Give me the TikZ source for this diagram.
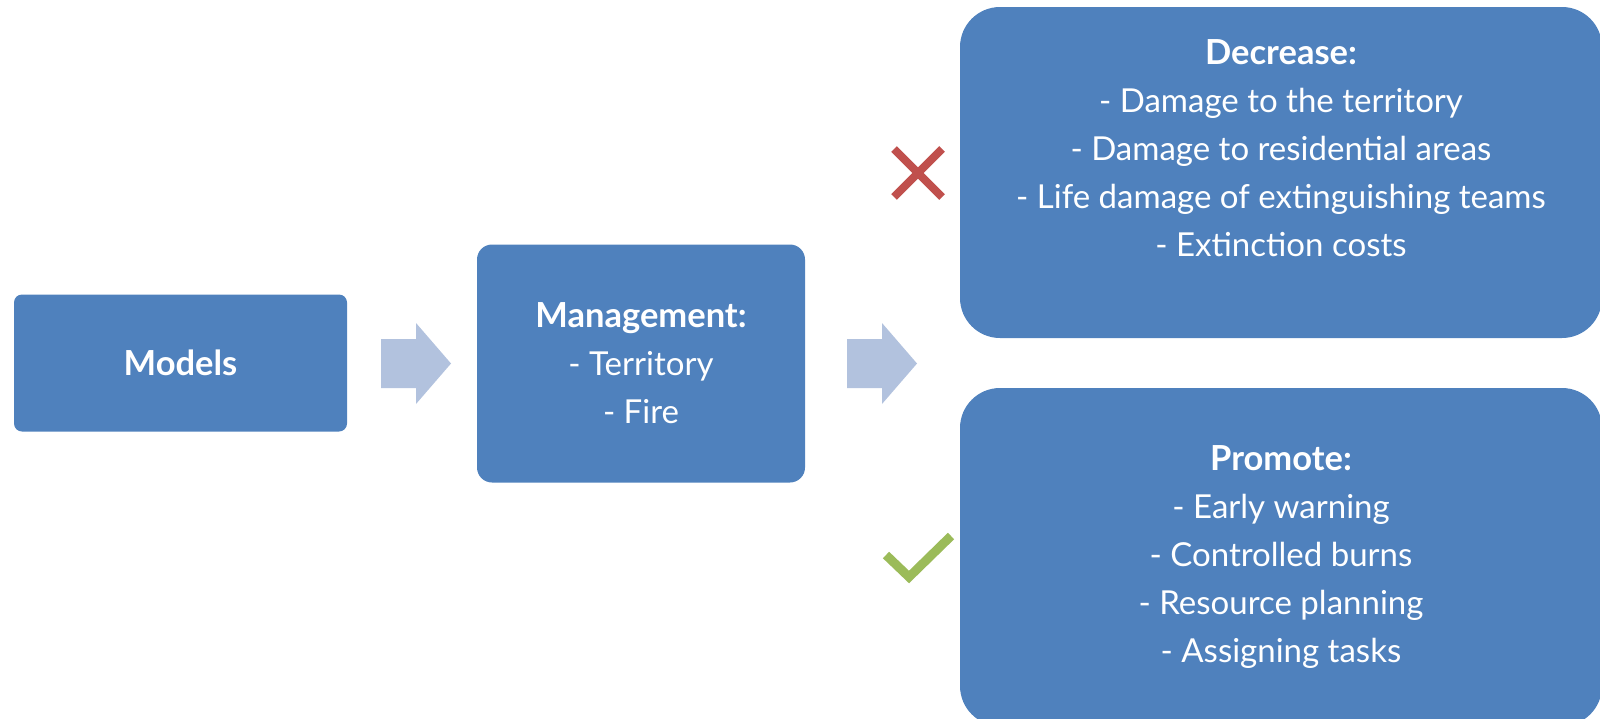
\documentclass[tikz,border=0pt]{standalone}
\usepackage{fontspec}
\setmainfont{Lato}
\usepackage{tikz}
\usepackage{xcolor}
\definecolor{BoxBlue}{RGB}{79,129,189}
\definecolor{ArrowBlue}{RGB}{178,194,222}
\definecolor{CrossRed}{RGB}{192,80,77}
\definecolor{CheckGreen}{RGB}{155,187,89}
\newcommand{\BoxFont}{\fontsize{33}{48}\selectfont}
\newcommand{\BoxTitle}[1]{{\fontsize{34.5}{48}\selectfont\textbf{#1}}}
\tikzstyle{BoxNode}=[rectangle,fill=BoxBlue,text=white,inner sep=0pt,align=center,
font=\BoxFont]
\tikzstyle{BoxText}=[text=white,inner sep=0pt,align=center,font=\BoxFont]
\tikzstyle{BlockArrow}=[fill=ArrowBlue]
\tikzstyle{CrossMark}=[CrossRed,line width=8pt]
\tikzstyle{CheckMark}=[CheckGreen,line width=9pt,miter limit=10]

\begin{document}
\begin{tikzpicture}[x=1pt,y=-1pt]
        \useasboundingbox (0,0) rectangle (1600,718);
        % boxes
        \node[BoxNode,rounded corners=8pt,minimum width=333,minimum height=137](models)at(180.5,363){\BoxTitle{Models}};
        \node[BoxNode,rounded corners=15pt,minimum width=328,minimum height=238](manage)at(641,363.5){\BoxTitle{Management:}\\- Territory\\- Fire};
        \node[BoxNode,rounded corners=40pt,minimum width=642,minimum height=331](decrease)at(1281,172.5){};
        \node[BoxText](dectext)at([yshift=24pt]decrease.center){\BoxTitle{Decrease:}\\- Damage to the territory\\- Damage to residential areas\\- Life damage of extinguishing teams\\- Extinction costs};
        \node[BoxNode,rounded corners=40pt,minimum width=642,minimum height=338](promote)at(1281,557){\BoxTitle{Promote:}\\- Early warning\\- Controlled burns\\- Resource planning\\- Assigning tasks};
        % block arrows
        \foreach \x in {0,466}{
            \fill[BlockArrow,xshift=\x](381,339)--(416,339)--(416,323)--(451,363.5)--(416,404)--(416,388)--(381,388)--cycle;
        }
        % marks
        \draw[CrossMark](894,149)--(942,197)(942,149)--(894,197);
        \draw[CheckMark](886,555)--(909,577)--(951,536);
    \end{tikzpicture}
\end{document}
